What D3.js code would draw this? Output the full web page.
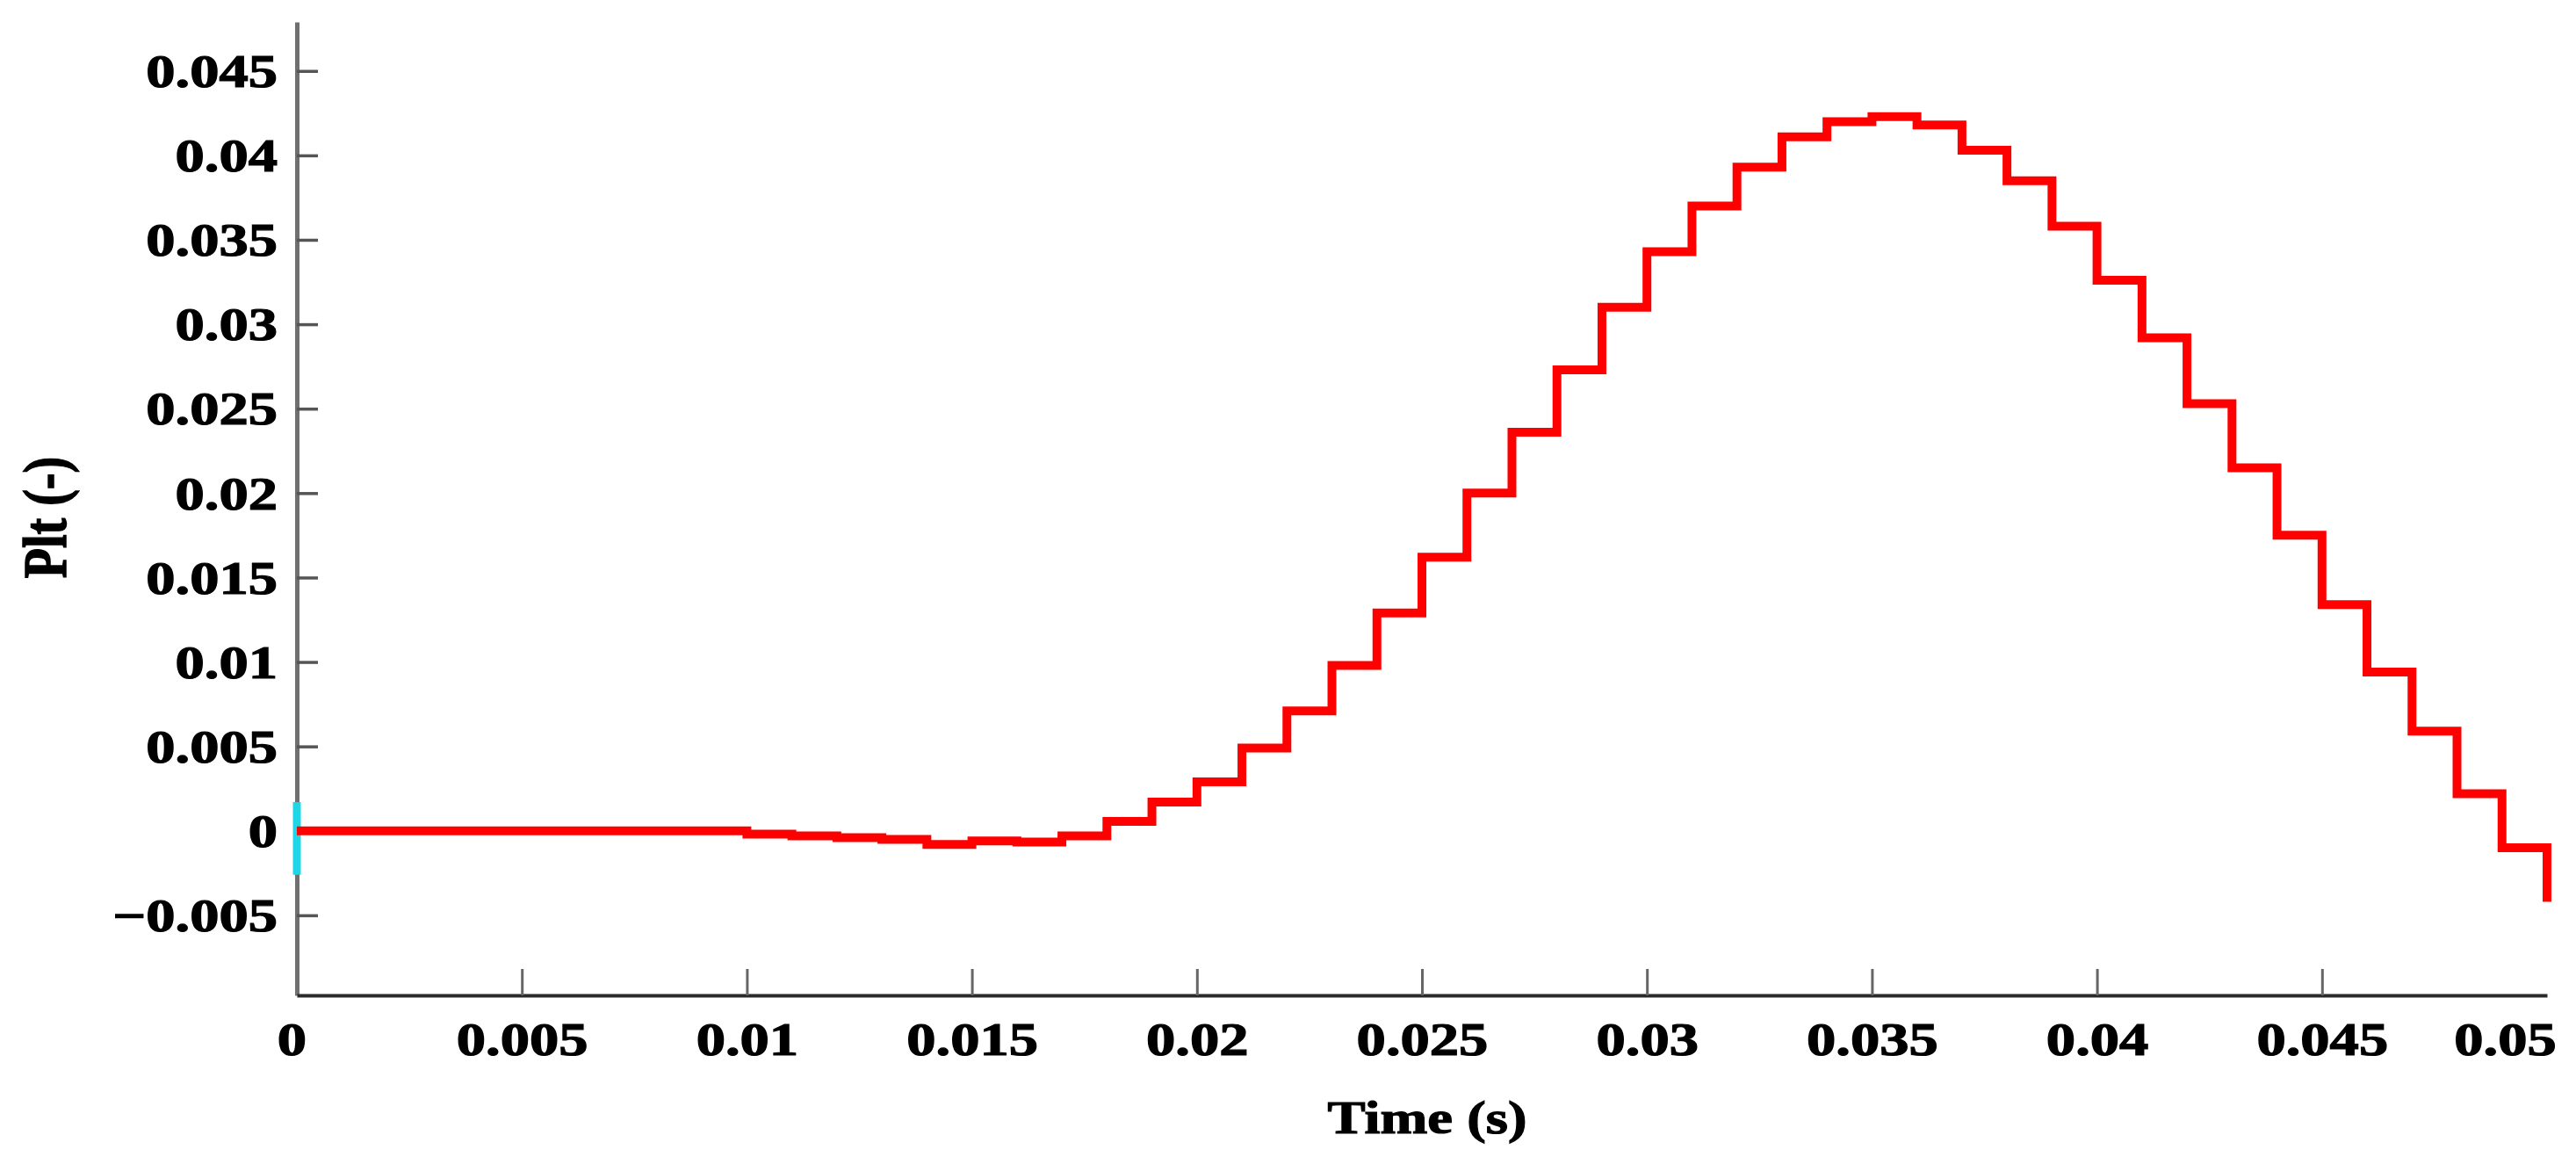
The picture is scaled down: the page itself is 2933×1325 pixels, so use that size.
<!DOCTYPE html>
<html lang="en">
<head>
  <meta charset="utf-8">
  <title>Plt vs Time</title>
  <script src="https://cdn.jsdelivr.net/npm/d3@7"></script>
  <style>
    body { margin: 0; background: #fff; }
    svg text {
      font-family: "Liberation Serif", "Times New Roman", serif;
      font-weight: bold; fill: #000;
      stroke: #000; stroke-width: 1.2px;
    }
  </style>
</head>
<body>
  <svg id="chart" width="2933" height="1325"></svg>

  <script>
    // step boundaries (s) and the Plt value held from each one
    const time = [0, 0.010, 0.011, 0.012, 0.013, 0.014, 0.015, 0.016, 0.017, 0.018,
                  0.019, 0.020, 0.021, 0.022, 0.023, 0.024, 0.025, 0.026, 0.027, 0.028,
                  0.029, 0.030, 0.031, 0.032, 0.033, 0.034, 0.035, 0.036, 0.037, 0.038,
                  0.039, 0.040, 0.041, 0.042, 0.043, 0.044, 0.045, 0.046, 0.047, 0.048,
                  0.049, 0.050];
    const plt = [0, -0.0002, -0.0003, -0.0004, -0.0005, -0.0008, -0.0006, -0.00066, -0.0003, 0.00056,
                 0.0017, 0.0029, 0.0049, 0.0071, 0.0098, 0.0129, 0.0162, 0.0200, 0.0236, 0.0273,
                 0.0310, 0.0343, 0.0370, 0.0393, 0.0411, 0.0420, 0.0423, 0.0418, 0.0403, 0.0385,
                 0.0358, 0.0326, 0.0292, 0.0253, 0.0215, 0.0175, 0.0134, 0.0094, 0.0059, 0.0022,
                 -0.0010, -0.0042];

    // small cyan transient at t = 0 (second trace, mostly hidden under the red one)
    const cyanTime = [0, 0];
    const cyanVal  = [0.0017, -0.0026];

    const xTicks = [0, 0.005, 0.01, 0.015, 0.02, 0.025, 0.03, 0.035, 0.04, 0.045, 0.05];
    const yTicks = [-0.005, 0, 0.005, 0.01, 0.015, 0.02, 0.025, 0.03, 0.035, 0.04, 0.045];

    const plotL = 338, plotR = 2900, plotT = 25, plotB = 1133;
    const stretch = 1.28;   // the source figure is widened horizontally

    const svg = d3.select("#chart");

    const x = d3.scaleLinear().domain([0, 0.05]).range([plotL, plotR]);
    const y = d3.scaleLinear().domain([-0.00974, 0.0479]).range([plotB, plotT]);

    const fmt = d => d === 0 ? "0" : String(d).replace("-", "\u2212");

    // y axis
    const yAxis = svg.append("g")
      .attr("transform", `translate(${plotL},0)`)
      .call(d3.axisLeft(y).tickValues(yTicks).tickFormat(fmt)
        .tickSizeInner(-24).tickSizeOuter(0).tickPadding(22));
    yAxis.select(".domain").attr("stroke", "#707070").attr("stroke-width", 5);
    yAxis.selectAll(".tick line").attr("stroke", "#555").attr("stroke-width", 3.5);
    yAxis.selectAll(".tick text")
      .attr("x", 0).attr("dy", "0.34em")
      .attr("font-size", 52)
      .attr("transform", `translate(-22,0) scale(${stretch},1)`);

    // x axis
    const xAxis = svg.append("g")
      .attr("transform", `translate(0,${plotB})`)
      .call(d3.axisBottom(x).tickValues(xTicks).tickFormat(fmt)
        .tickSizeInner(-30).tickSizeOuter(0).tickPadding(0));
    xAxis.select(".domain").attr("stroke", "#2a2a2a").attr("stroke-width", 4);
    xAxis.selectAll(".tick line")
      .attr("stroke", "#666").attr("stroke-width", 3)
      .attr("display", d => (d === 0 || d === 0.05) ? "none" : null);
    xAxis.selectAll(".tick text")
      .attr("y", 0).attr("dy", "0.34em")
      .attr("font-size", 52)
      .attr("transform", d => {
        let dx = 0;
        if (d === 0) dx = -6;
        if (d === 0.05) dx = -48;
        return `translate(${dx},50) scale(${stretch},1)`;
      });

    // axis titles
    svg.append("text")
      .attr("text-anchor", "middle")
      .attr("font-size", 53)
      .attr("transform", `translate(1625,1290) scale(1.22,1)`)
      .text("Time (s)");

    svg.append("text")
      .attr("text-anchor", "middle")
      .attr("font-size", 56)
      .attr("transform", `translate(75,589) scale(1.25,1) rotate(-90)`)
      .text("Plt (-)");

    // traces
    const cyanLine = d3.line()
      .x((d, i) => x(cyanTime[i]))
      .y(d => y(d));
    svg.append("path")
      .datum(cyanVal)
      .attr("fill", "none")
      .attr("stroke", "#1ed6e6")
      .attr("stroke-width", 9)
      .attr("d", cyanLine);

    const stepLine = d3.line()
      .x((d, i) => x(time[i]))
      .y(d => y(d))
      .curve(d3.curveStepAfter);

    svg.append("path")
      .datum(plt)
      .attr("fill", "none")
      .attr("stroke", "#ff0000")
      .attr("stroke-width", 10)
      .attr("stroke-linejoin", "miter")
      .attr("d", stepLine);
  </script>
</body>
</html>
